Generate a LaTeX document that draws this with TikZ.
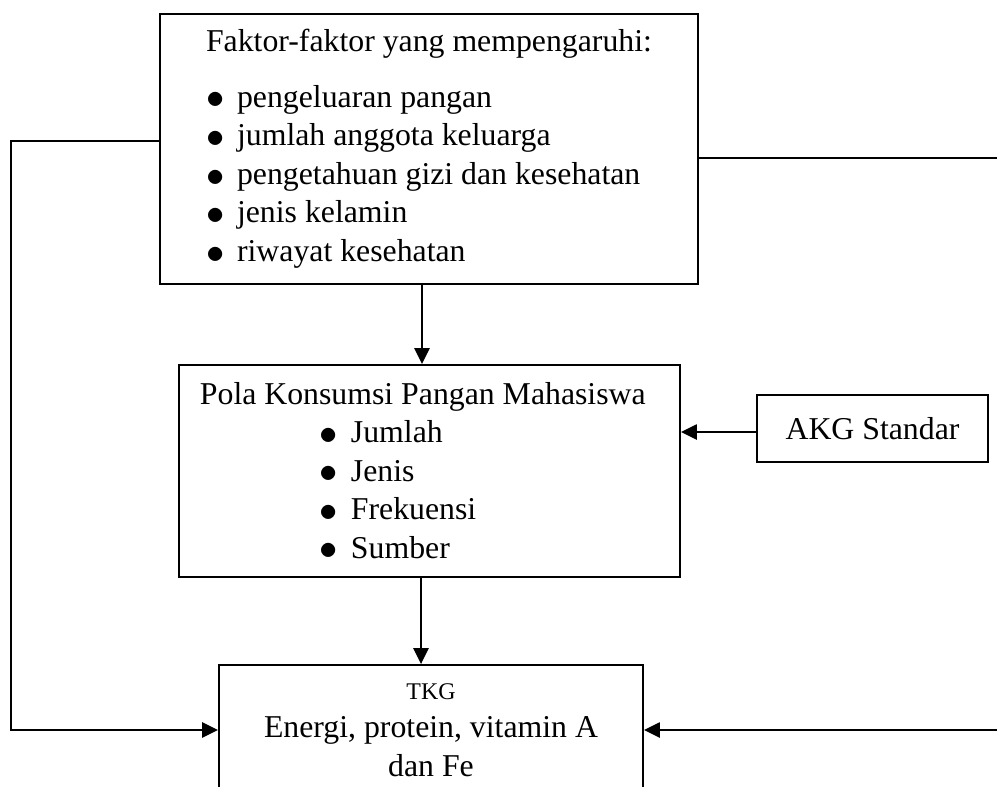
\documentclass[tikz,border=0pt]{standalone}
\usepackage{fontspec}
\setmainfont{Liberation Serif}
\usetikzlibrary{arrows.meta,positioning}

\tikzset{
	box/.style={draw, line width=1.3pt, inner sep=0pt, font=\fontsize{22.6}{27.4}\selectfont},
	arr/.style={line width=1.4pt, -{Triangle[length=0.4cm, width=0.38cm]}}
}
\newcommand{\butir}{\makebox[0.775cm][l]{\raisebox{-0.05em}{\scalebox{1.25}{$\bullet$}}}}

\begin{document}
\begin{tikzpicture}[x=0.025cm, y=-0.025cm]
	\path[use as bounding box, clip] (0,0) rectangle (997,787);
	
	\node[box, minimum width=13.45cm, minimum height=6.75cm, align=left] (faktor) at (429,149) {Faktor-faktor yang mempengaruhi:\\[12pt]
		\butir pengeluaran pangan\\
		\butir jumlah anggota keluarga\\
		\butir pengetahuan gizi dan kesehatan\\
		\butir jenis kelamin\\
		\butir riwayat kesehatan};
	
	\node[box, minimum width=12.525cm, minimum height=5.3cm, text width=11.475cm, align=flush left] (pola) at (429.5,471) {Pola Konsumsi Pangan Mahasiswa\\
		\hspace*{3cm}\butir Jumlah\\
		\hspace*{3cm}\butir Jenis\\
		\hspace*{3cm}\butir Frekuensi\\
		\hspace*{3cm}\butir Sumber};
	
	\node[box, minimum width=5.775cm, minimum height=1.675cm] (akg) at (872.5,428.5) {AKG Standar};
	
	\node[box, minimum width=10.6cm, minimum height=3.25cm, align=center] (tkg) at (431,730) {{\fontsize{17}{20}\selectfont TKG}\\
		Energi, protein, vitamin A\\
		dan Fe};
	
	\draw[arr] (faktor.south -| 422,0) -- (pola.north -| 422,0);
	\draw[arr] (pola.south -| 421,0) -- (tkg.north -| 421,0);
	\draw[arr] (akg.west |- 0,432) -- (pola.east |- 0,432);
	\draw[arr] (faktor.west |- 0,141) -- (11,141) |- (tkg.west);
	\draw[arr] (faktor.east |- 0,158) -- (1005,158) |- (tkg.east);
\end{tikzpicture}
\end{document}
